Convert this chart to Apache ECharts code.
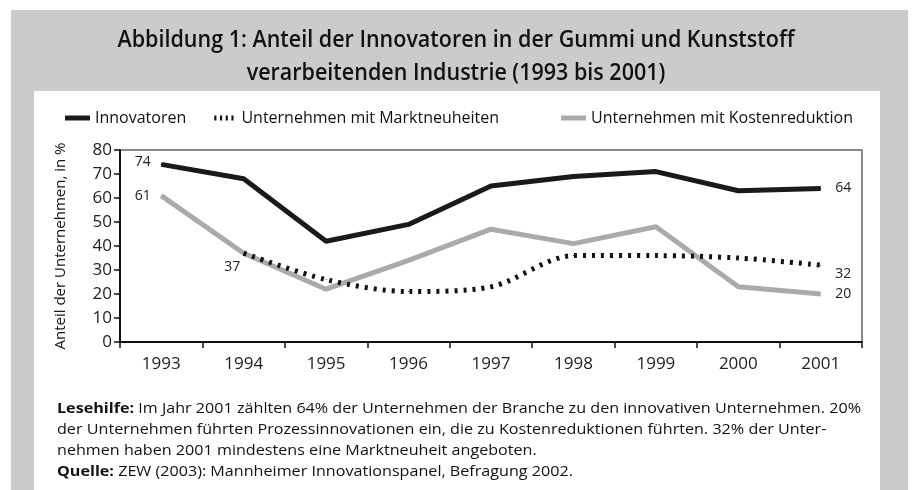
<!DOCTYPE html>
<html><head><meta charset="utf-8">
<script src="https://cdn.jsdelivr.net/npm/echarts@6/dist/echarts.min.js"></script>
<style>html,body{margin:0;padding:0;background:#fff}#c{width:912px;height:490px}</style>
</head><body><div id="c"></div>
<script>
const years = ['1993','1994','1995','1996','1997','1998','1999','2000','2001'];
const innovatoren = [74, 68, 42, 49, 65, 69, 71, 63, 64];
const marktneuheiten = [null, 37, 26, 21, 23, 36, 36, 35, 32];
const kostenreduktion = [61, 37, 22, 34, 47, 41, 48, 23, 20];
const seriesNames = ['Innovatoren', 'Unternehmen mit Marktneuheiten', 'Unternehmen mit Kostenreduktion'];
const yTicks = [0, 10, 20, 30, 40, 50, 60, 70, 80];
const titleLines = ['Abbildung 1: Anteil der Innovatoren in der Gummi und Kunststoff', 'verarbeitenden Industrie (1993 bis 2001)'];
const yAxisTitle = 'Anteil der Unternehmen, in %';
const noteLines = [
  ['Lesehilfe:', ' Im Jahr 2001 zählten 64% der Unternehmen der Branche zu den innovativen Unternehmen. 20%'],
  ['', 'der Unternehmen führten Prozessinnovationen ein, die zu Kostenreduktionen führten. 32% der Unter-'],
  ['', 'nehmen haben 2001 mindestens eine Marktneuheit angeboten.'],
  ['Quelle:', ' ZEW (2003): Mannheimer Innovationspanel, Befragung 2002.']
];

const sans = '"Open Sans", "Noto Sans", sans-serif';
const ctx = document.createElement('canvas').getContext('2d');
function textW(font, s) { ctx.font = font; return ctx.measureText(s).width; }

// title horizontal compression to mimic the condensed original face
const titleFont = '600 23px ' + sans;
const titleScale = 677 / textW(titleFont, titleLines[0]);
// footnote
const noteFontR = '15px ' + sans, noteFontB = 'bold 15px ' + sans;
const noteScale = 804 / (textW(noteFontB, noteLines[0][0]) + textW(noteFontR, noteLines[0][1]));
const noteText = noteLines.map(l => (l[0] ? '{b|' + l[0] + '}' : '') + l[1]).join('\n');

function withLabels(arr, labels) {
  return arr.map((v, i) => {
    if (v === null) return '-';
    if (labels[i]) return { value: v, label: Object.assign({ show: true }, labels[i]) };
    return v;
  });
}
const last = years.length - 1;
const lblBase = { color: '#222', fontSize: 14, fontFamily: sans };

const chart = echarts.init(document.getElementById('c'), null, { renderer: 'canvas' });
chart.setOption({
  animation: false,
  backgroundColor: '#ffffff',
  graphic: [
    { type: 'rect', z: -10, shape: { x: 11, y: 10, width: 897, height: 480 }, style: { fill: '#cbcbcb' } },
    { type: 'rect', z: -9, shape: { x: 34, y: 91, width: 846, height: 399 }, style: { fill: '#ffffff' } },
    { type: 'text', x: 456, y: 24, scaleX: titleScale, style: {
        text: titleLines.join('\n'), x: 0, y: 0, textAlign: 'center', textVerticalAlign: 'top',
        font: titleFont, fill: '#111', lineHeight: 33 } },
    { type: 'text', x: 57, y: 398, scaleX: noteScale, style: {
        text: noteText, x: 0, y: 0, font: noteFontR, fill: '#111', lineHeight: 21,
        rich: { b: { fontWeight: 'bold', fontFamily: sans, fontSize: 15, fill: '#111', lineHeight: 21 } } } }
  ],
  legend: [
    { left: 60, top: 105, itemWidth: 25, itemHeight: 5, itemGap: 28,
      textStyle: { fontFamily: sans, fontSize: 16, color: '#111' },
      data: [
        { name: seriesNames[0], icon: 'rect', itemStyle: { color: '#1a1a1a' } },
        { name: seriesNames[1], icon: 'path://M0,0h3v7h-3z M8,0h3v7h-3z M16,0h3v7h-3z M24,0h3v7h-3z', itemStyle: { color: '#111' } }
      ] },
    { left: 556, top: 105, itemWidth: 25, itemHeight: 5,
      textStyle: { fontFamily: sans, fontSize: 16, color: '#111' },
      data: [ { name: seriesNames[2], icon: 'rect', itemStyle: { color: '#aaaaaa' } } ] }
  ],
  grid: { left: 120, right: 50, top: 150, bottom: 148, show: true, borderColor: '#666', borderWidth: 1.5 },
  xAxis: {
    type: 'category', data: years, boundaryGap: true,
    axisLine: { lineStyle: { color: '#111', width: 2 } },
    axisTick: { show: true, interval: 0, length: 6, lineStyle: { color: '#111', width: 1.5 } },
    axisLabel: { fontFamily: sans, fontSize: 17, color: '#222', margin: 14 },
    splitLine: { show: false }
  },
  yAxis: {
    type: 'value', min: yTicks[0], max: yTicks[yTicks.length - 1], interval: 10,
    name: yAxisTitle, nameLocation: 'middle', nameRotate: 90, nameGap: 52,
    nameTextStyle: { fontFamily: sans, fontSize: 15, color: '#111' },
    axisLine: { show: true, lineStyle: { color: '#111', width: 2 } },
    axisTick: { show: true, length: 6, lineStyle: { color: '#111', width: 1.5 } },
    axisLabel: { fontFamily: sans, fontSize: 17, color: '#222', margin: 8 },
    splitLine: { show: false }
  },
  series: [
    { name: seriesNames[2], type: 'line', symbol: 'circle', symbolSize: 1, showSymbol: true, z: 2,
      lineStyle: { color: '#aaaaaa', width: 5 }, itemStyle: { color: '#aaaaaa' },
      data: withLabels(kostenreduktion, { 0: Object.assign({ position: 'left', distance: 10 }, lblBase), [last]: Object.assign({ position: 'right', distance: 14 }, lblBase) }) },
    { name: seriesNames[1], type: 'line', symbol: 'circle', symbolSize: 1, showSymbol: true, z: 3, smooth: 0.3,
      lineStyle: { color: '#111', width: 5, type: [3, 6] }, itemStyle: { color: '#111' },
      data: withLabels(marktneuheiten, { 1: Object.assign({ position: 'left', distance: 3, offset: [0, 14] }, lblBase), [last]: Object.assign({ position: 'right', distance: 14, offset: [0, 9] }, lblBase) }) },
    { name: seriesNames[0], type: 'line', symbol: 'circle', symbolSize: 1, showSymbol: true, z: 4,
      lineStyle: { color: '#1a1a1a', width: 5 }, itemStyle: { color: '#1a1a1a' },
      data: withLabels(innovatoren, { 0: Object.assign({ position: 'left', distance: 10, offset: [0, -2] }, lblBase), [last]: Object.assign({ position: 'right', distance: 14 }, lblBase) }) }
  ]
});
</script></body></html>
